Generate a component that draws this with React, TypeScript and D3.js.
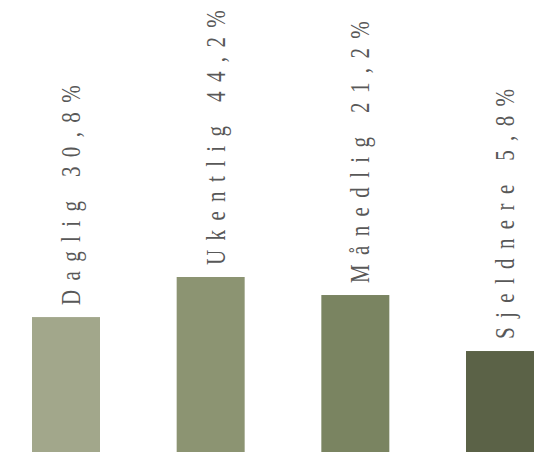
import React, { useEffect, useRef } from 'react';
import * as d3 from 'd3';

// categories and the printed percentages
const categories = ['Daglig', 'Ukentlig', 'Månedlig', 'Sjeldnere'];
const percentLabels = ['30,8%', '44,2%', '21,2%', '5,8%'];
// bar heights as drawn (relative to the tallest bar)
const barLevels = [0.771, 1.0, 0.897, 0.577];
const barColors = ['#a2a78b', '#8c9472', '#7a8461', '#5b6247'];

const App: React.FC = () => {
  const svgRef = useRef<SVGSVGElement | null>(null);

  useEffect(() => {
    if (!svgRef.current) return;
    const svg = d3.select(svgRef.current);
    svg.selectAll('*').remove();

    const width = 535;
    const height = 453;

    svg.attr('width', width).attr('height', height);

    svg.append('rect').attr('width', width).attr('height', height).attr('fill', '#ffffff');

    const x = d3.scaleBand<string>()
      .domain(categories)
      .range([32, 534])
      .paddingInner(0.53)
      .paddingOuter(0);

    const y = d3.scaleLinear()
      .domain([0, 1])
      .range([452, 277]);

    svg.selectAll('.bar')
      .data(categories)
      .enter().append('rect')
      .attr('class', 'bar')
      .attr('x', d => x(d) as number)
      .attr('y', (d, i) => y(barLevels[i]))
      .attr('width', x.bandwidth())
      .attr('height', (d, i) => y(0) - y(barLevels[i]))
      .attr('fill', (d, i) => barColors[i]);

    svg.selectAll('.label')
      .data(categories)
      .enter().append('text')
      .attr('class', 'label')
      .attr('transform', (d, i) => {
        const lx = (x(d) as number) + x.bandwidth() / 2 + 14;
        const ly = y(barLevels[i]) - 12;
        return `translate(${lx},${ly}) rotate(-90) scale(0.75,1)`;
      })
      .attr('font-family', '"Liberation Serif", "DejaVu Serif", serif')
      .attr('font-size', 28)
      .attr('letter-spacing', 12.5)
      .attr('fill', '#585858')
      .text((d, i) => `${d} ${percentLabels[i]}`);
  }, []);

  return (
    <svg ref={svgRef} style={{ position: 'absolute', top: 0, left: 0 }}></svg>
  );
};

export default App;
